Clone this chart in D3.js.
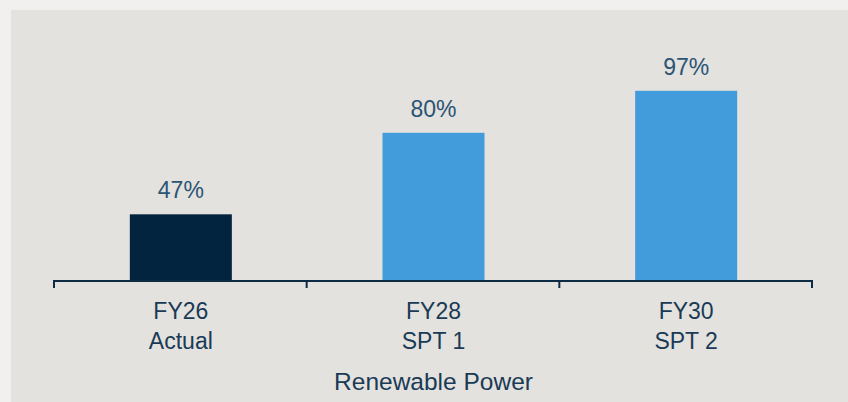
<!DOCTYPE html>
<html><head><meta charset="utf-8">
<script src="https://cdn.jsdelivr.net/npm/d3@7"></script>
<style>
html,body{margin:0;padding:0;background:#f1f0ee;}
svg{display:block;}
text{font-family:"Liberation Sans",Arial,sans-serif;}
</style></head><body>
<svg id="chart" width="848" height="402"></svg>
<script>
const categories = ["FY26", "FY28", "FY30"];
const subLabels = ["Actual", "SPT 1", "SPT 2"];
const values = [47, 80, 97];
const valueLabels = ["47%", "80%", "97%"];
const barColors = ["#03243f", "#429bda", "#429bda"];
const axisTitle = "Renewable Power";

const svg = d3.select("#chart");
svg.append("rect").attr("x", 11).attr("y", 10).attr("width", 848 - 11).attr("height", 402 - 10).attr("fill", "#e3e2de");

const x = d3.scaleBand().domain(categories).range([54, 812]).padding(0);
const y = d3.scaleLinear().domain([20, 100]).range([281, 83.4]);
const barW = 102;

svg.selectAll("rect.bar").data(categories).enter().append("rect")
  .attr("class", "bar")
  .attr("x", d => x(d) + x.bandwidth() / 2 - barW / 2 + 0.5)
  .attr("width", barW)
  .attr("y", (d, i) => y(values[i]))
  .attr("height", (d, i) => y(20) - y(values[i]))
  .attr("fill", (d, i) => barColors[i]);

svg.selectAll("text.val").data(categories).enter().append("text")
  .attr("class", "val")
  .attr("x", d => x(d) + x.bandwidth() / 2 + 0.5)
  .attr("y", (d, i) => y(values[i]) - 16)
  .attr("text-anchor", "middle")
  .attr("font-size", 23)
  .attr("fill", "#2b5475")
  .text((d, i) => valueLabels[i]);

// axis line with ticks at band boundaries
const boundaries = [x.range()[0]].concat(categories.map(c => x(c) + x.bandwidth()));
const ax = svg.append("g");
ax.append("line").attr("x1", boundaries[0]).attr("x2", boundaries[boundaries.length - 1])
  .attr("y1", 281).attr("y2", 281).attr("stroke", "#0d2b45").attr("stroke-width", 2);
ax.selectAll("line.tick").data(boundaries).enter().append("line")
  .attr("class", "tick")
  .attr("x1", d => d).attr("x2", d => d).attr("y1", 280).attr("y2", 288)
  .attr("stroke", "#0d2b45").attr("stroke-width", 2);

const tl = svg.selectAll("g.tl").data(categories).enter().append("g")
  .attr("transform", d => `translate(${x(d) + x.bandwidth() / 2 + 0.5},0)`);
tl.append("text").attr("y", 319).attr("text-anchor", "middle").attr("font-size", 23)
  .attr("fill", "#1a3a55").text(d => d);
tl.append("text").attr("y", 349).attr("text-anchor", "middle").attr("font-size", 23)
  .attr("fill", "#1a3a55").text((d, i) => subLabels[i]);

svg.append("text").attr("x", 433.5).attr("y", 390).attr("text-anchor", "middle")
  .attr("font-size", 24.5).attr("fill", "#1a3a55").text(axisTitle);
</script>
</body></html>
